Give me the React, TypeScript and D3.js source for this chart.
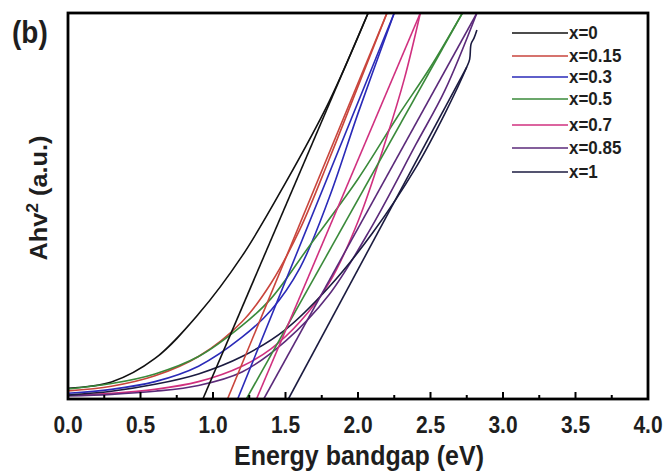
import React from "react";
import * as d3 from "d3";

// ---- data (E in eV, Ahv^2 in arbitrary units 0..100) ----
const seriesLabels = ["x=0", "x=0.15", "x=0.3", "x=0.5", "x=0.7", "x=0.85", "x=1"];
const seriesColors = ["#111111", "#c9453c", "#2a2ab8", "#3a8a3a", "#d0307f", "#5b2a7a", "#1b1b40"];

const curveX0: [number, number][] = [[0, 2.8], [0.3, 4.4], [0.6, 10.5], [0.9, 22], [1.2, 37], [1.5, 56], [1.8, 77], [2.07, 100]];
const curveX015: [number, number][] = [[0, 2.1], [0.3, 3.3], [0.6, 6], [0.9, 11], [1.2, 20], [1.4, 30], [1.6, 44], [1.8, 62], [2.0, 81], [2.2, 100]];
const curveX03: [number, number][] = [[0, 1.5], [0.3, 2.5], [0.6, 4.5], [0.9, 8.5], [1.2, 16], [1.4, 23], [1.6, 34], [1.8, 52], [2.0, 74], [2.25, 100]];
const curveX05: [number, number][] = [[0, 2.6], [0.3, 4], [0.6, 6.5], [0.9, 11], [1.2, 19], [1.4, 26], [1.66, 39.4], [2.0, 57], [2.27, 73], [2.5, 86], [2.72, 100]];
const curveX07: [number, number][] = [[0, 1], [0.3, 1.5], [0.6, 2.5], [0.9, 4.5], [1.2, 8.5], [1.4, 13], [1.6, 20], [1.8, 30], [2.0, 46], [2.2, 68], [2.32, 83], [2.43, 100]];
const curveX085: [number, number][] = [[0, 0.8], [0.3, 1.2], [0.6, 2], [0.9, 3.5], [1.2, 7], [1.5, 15], [1.8, 27], [2.1, 45], [2.4, 66], [2.6, 80], [2.82, 100]];
const curveX1: [number, number][] = [[0, 1], [0.3, 2], [0.6, 3.8], [0.9, 6.5], [1.2, 11], [1.5, 18], [1.8, 29], [2.1, 43], [2.4, 60], [2.6, 74], [2.75, 86], [2.77, 88], [2.78, 92], [2.8, 93.5], [2.82, 95.6]];

const tangentX0: [number, number][] = [[0.93, 0], [2.07, 100]];
const tangentX015: [number, number][] = [[1.1, 0], [2.2, 100]];
const tangentX03: [number, number][] = [[1.17, 0], [2.25, 100]];
const tangentX05: [number, number][] = [[1.23, 0], [2.72, 100]];
const tangentX07: [number, number][] = [[1.3, 0], [2.43, 100]];
const tangentX085: [number, number][] = [[1.35, 0], [2.82, 100]];
const tangentX1: [number, number][] = [[1.52, 0], [2.75, 86]];

const curves = [curveX0, curveX015, curveX03, curveX05, curveX07, curveX085, curveX1];
const tangents = [tangentX0, tangentX015, tangentX03, tangentX05, tangentX07, tangentX085, tangentX1];

const majorTicks = [0, 0.5, 1.0, 1.5, 2.0, 2.5, 3.0, 3.5, 4.0];
const minorTicks = [0.25, 0.75, 1.25, 1.75, 2.25, 2.75, 3.25, 3.75];

const W = 667;
const H = 471;
const L = 68, R = 648, T = 13, B = 399;
const FONT = "'Liberation Sans', Arial, Helvetica, sans-serif";
const INK = "#1e1e1e";

export default function App() {
  const x = d3.scaleLinear().domain([0, 4]).range([L, R]);
  const y = d3.scaleLinear().domain([0, 100]).range([B, T]);
  const smooth = d3.line<[number, number]>().x(d => x(d[0])).y(d => y(d[1])).curve(d3.curveCatmullRom.alpha(0.5));
  const straight = d3.line<[number, number]>().x(d => x(d[0])).y(d => y(d[1]));
  const legendY = [33, 56, 77, 99, 125, 148, 172];

  return (
    <svg width={W} height={H} style={{ position: "absolute", left: 0, top: 0, background: "#fff" }}>
      <defs>
        <clipPath id="plotclip">
          <rect x={L} y={T} width={R - L} height={B - T} />
        </clipPath>
      </defs>
      <g clipPath="url(#plotclip)">
        {curves.map((c, i) => (
          <path key={"c" + i} d={smooth(c) || ""} fill="none" stroke={seriesColors[i]} strokeWidth={1.6} />
        ))}
        {tangents.map((t, i) => (
          <path key={"t" + i} d={straight(t) || ""} fill="none" stroke={seriesColors[i]} strokeWidth={1.6} />
        ))}
      </g>
      {/* frame */}
      <rect x={L} y={T} width={R - L} height={B - T} fill="none" stroke="#000" strokeWidth={2.8} />
      {majorTicks.map(t => (
        <line key={"M" + t} x1={x(t)} x2={x(t)} y1={B} y2={B - 7} stroke="#000" strokeWidth={2} />
      ))}
      {minorTicks.map(t => (
        <line key={"m" + t} x1={x(t)} x2={x(t)} y1={B} y2={B - 4} stroke="#000" strokeWidth={2} />
      ))}
      {majorTicks.map(t => (
        <text key={"l" + t} transform={`translate(${x(t)},433) scale(1,1.18)`} textAnchor="middle" fontFamily={FONT} fontWeight="bold" fontSize={21} fill={INK}>
          {t.toFixed(1)}
        </text>
      ))}
      <text transform={`translate(${(L + R) / 2 + 1},465) scale(1,1.12)`} textAnchor="middle" fontFamily={FONT} fontWeight="bold" fontSize={25} fill={INK}>
        Energy bandgap (eV)
      </text>
      <text transform={`translate(47,198) rotate(-90) scale(1.1,1)`} textAnchor="middle" fontFamily={FONT} fontWeight="bold" fontSize={23} fill={INK}>
        Ahv<tspan dy={-9} fontSize={16}>2</tspan><tspan dy={9}> (a.u.)</tspan>
      </text>
      <text transform="translate(12,43) scale(1,1.1)" fontFamily={FONT} fontWeight="bold" fontSize={28} fill={INK}>(b)</text>
      {seriesLabels.map((lab, i) => (
        <g key={"lg" + i}>
          <line x1={512} x2={568} y1={legendY[i]} y2={legendY[i]} stroke={seriesColors[i]} strokeWidth={1.6} />
          <text transform={`translate(569,${legendY[i] + 6}) scale(1,1.12)`} fontFamily={FONT} fontWeight="bold" fontSize={17} fill={INK}>
            {lab}
          </text>
        </g>
      ))}
    </svg>
  );
}
